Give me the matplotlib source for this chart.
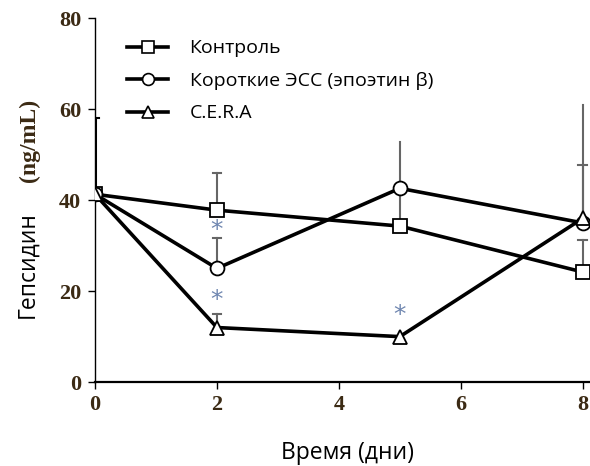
import matplotlib.pyplot as plt
from matplotlib.lines import Line2D

# data
days = [0, 2, 5, 8]
control = [41.3, 37.8, 34.3, 24.2]
short_esa = [41.3, 25.0, 42.6, 35.0]
cera = [41.3, 12.0, 10.0, 36.0]

# upper error bar tips (ng/mL) and whether a cap is drawn
control_err_top = [58, 46.0, 42.0, 31.2]
short_esa_err_top = [58, 31.6, 52.7, 61.0]
cera_err_top = [58, 15.0, 10.0, 47.7]
control_caps = [True, True, False, True]
short_esa_caps = [True, True, False, False]
cera_caps = [True, True, False, True]

# significance marks (x, y)
star_x = [2, 2, 5]
star_y = [33.5, 18.0, 14.7]

labels = ["Контроль", "Короткие ЭСС (эпоэтин β)", "C.E.R.A"]
x_ticks = [0, 2, 4, 6, 8]
y_ticks = [0, 20, 40, 60, 80]

tick_color = "#3b2a14"
err_color = "#666666"

fig = plt.figure(figsize=(5.9, 4.66), dpi=100)
ax = fig.add_axes([0.161, 0.180, 0.837, 0.781])

# error bars (upper only)
for series, tops, caps in [(control, control_err_top, control_caps),
                           (short_esa, short_esa_err_top, short_esa_caps),
                           (cera, cera_err_top, cera_caps)]:
    for x, v, t, c in zip(days, series, tops, caps):
        if x == 0:
            continue
        ax.plot([x, x], [v, t], color=err_color, lw=1.5, zorder=2)
        if c:
            ax.plot([x - 0.07, x + 0.07], [t, t], color=err_color, lw=1.5, zorder=2)
ax.plot([0, 0], [41, 58], color="black", lw=2.2, zorder=2)
ax.plot([-0.06, 0.06], [58, 58], color="black", lw=1.5, zorder=2)

line_kw = dict(color="black", lw=2.6, markersize=10, markerfacecolor="white",
               markeredgecolor="black", markeredgewidth=1.3, zorder=3)
ax.plot(days, control, marker="s", **line_kw)
ax.plot(days, short_esa, marker="o", **line_kw)
ax.plot(days, cera, marker="^", **line_kw)

for x, y in zip(star_x, star_y):
    ax.text(x, y, "*", color="#6f86b0", fontsize=18, ha="center", va="center",
            family="DejaVu Sans", zorder=4)

ax.set_xlim(0, 8.1)
ax.set_ylim(0, 80)
ax.set_xticks(x_ticks)
ax.set_yticks(y_ticks)
ax.spines["top"].set_visible(False)
ax.spines["right"].set_visible(False)
ax.spines["left"].set_linewidth(1.0)
ax.spines["bottom"].set_linewidth(1.6)
ax.tick_params(direction="out", length=5, width=1.0)
ax.tick_params(axis="y", pad=5)
ax.tick_params(axis="x", pad=4)
for lab in ax.get_xticklabels() + ax.get_yticklabels():
    lab.set_fontfamily("Liberation Serif")
    lab.set_fontweight("bold")
    lab.set_fontsize(16)
    lab.set_color(tick_color)

fig.text(347 / 590, 1 - 453 / 466, "Время (дни)", fontsize=16.5, family="Open Sans",
         ha="center", va="center")
fig.text(27 / 590, 1 - 265 / 466, "Гепсидин", rotation=90, fontsize=16.5,
         family="Open Sans", ha="center", va="center")
fig.text(29 / 590, 1 - 140 / 466, "(ng/mL)", rotation=90, fontsize=17,
         family="Liberation Serif", fontweight="bold", color=tick_color,
         ha="center", va="center")

handles = [
    Line2D([], [], marker=m, color="black", lw=2.6, markersize=8.5,
           markerfacecolor="white", markeredgecolor="black", markeredgewidth=1.2)
    for m in ["s", "o", "^"]
]
ax.legend(handles, labels, loc="upper left", bbox_to_anchor=(0.03, 0.99),
          frameon=False, handlelength=2.1, handletextpad=1.1, labelspacing=0.75,
          prop={"family": "Open Sans", "size": 14})

fig.savefig("out.png", dpi=100)
